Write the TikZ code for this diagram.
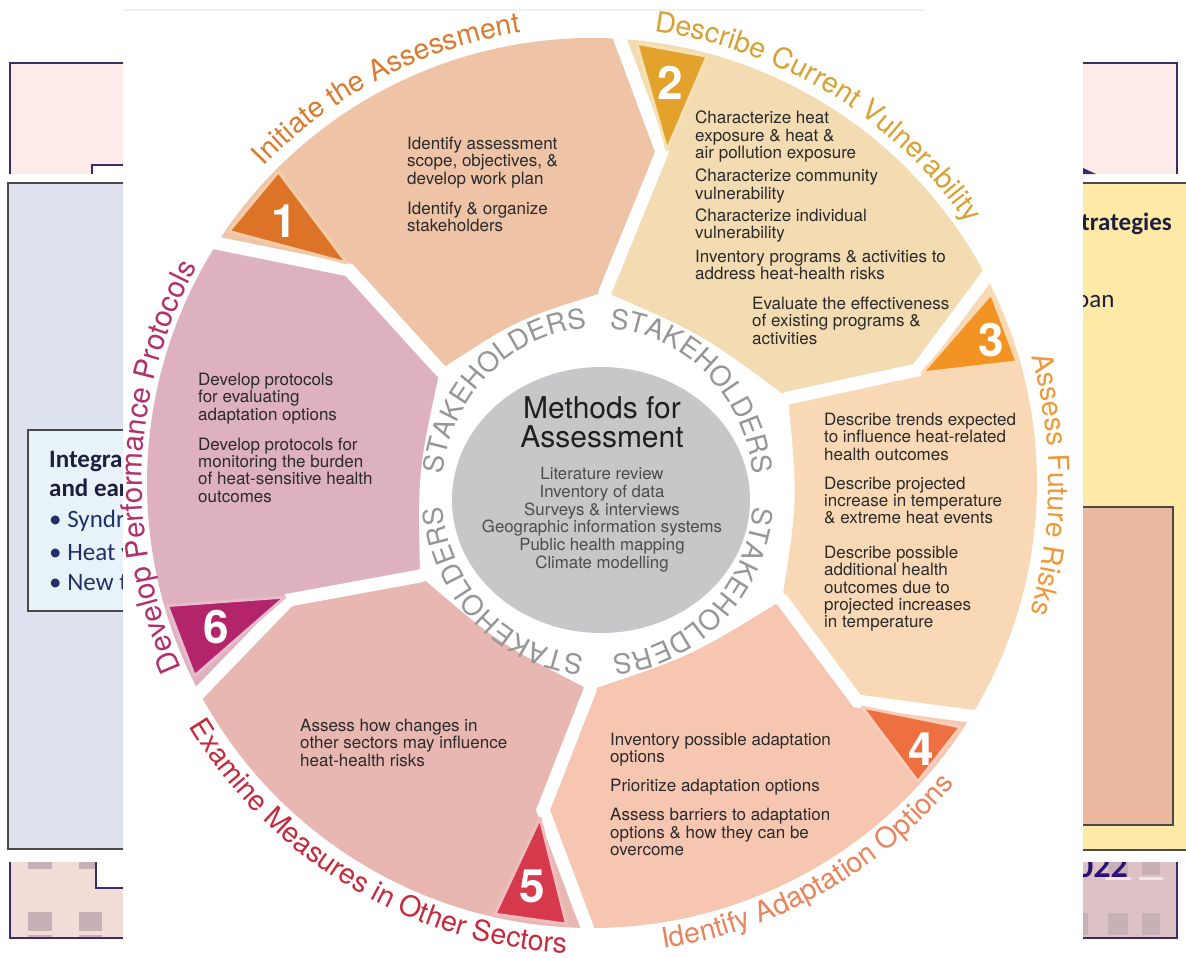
\documentclass[tikz,border=0pt]{standalone}
\usepackage{fontspec}
\setmainfont{TeX Gyre Heros}
\newfontfamily\panelfont{Carlito}
\usetikzlibrary{decorations.text,calc}

\definecolor{segA}{HTML}{EEC3A6}
\definecolor{segB}{HTML}{F3DBB2}
\definecolor{segC}{HTML}{F9D9B5}
\definecolor{segD}{HTML}{F6C6B1}
\definecolor{segE}{HTML}{E9B7B1}
\definecolor{segF}{HTML}{DDB1BF}
\definecolor{triA}{HTML}{DC7326}
\definecolor{triB}{HTML}{E3A22B}
\definecolor{triC}{HTML}{F39323}
\definecolor{triD}{HTML}{EE6F3F}
\definecolor{triE}{HTML}{D6394B}
\definecolor{triF}{HTML}{B3246A}
\definecolor{rimA}{HTML}{F4CDA8}
\definecolor{rimB}{HTML}{F6E0B4}
\definecolor{rimC}{HTML}{FBD9B0}
\definecolor{rimD}{HTML}{F9CDB8}
\definecolor{rimE}{HTML}{EFBDBB}
\definecolor{rimF}{HTML}{E6BCCB}
\definecolor{titA}{HTML}{D97C32}
\definecolor{titB}{HTML}{D8A232}
\definecolor{titC}{HTML}{EE9A3A}
\definecolor{titD}{HTML}{E8855C}
\definecolor{titE}{HTML}{C52A3D}
\definecolor{titF}{HTML}{B2306C}
\definecolor{ringgray}{HTML}{969696}
\definecolor{hubgray}{HTML}{C7C7C9}
\definecolor{bodytext}{HTML}{2A2A2A}
\definecolor{listtext}{HTML}{4C4C4C}
\definecolor{pinkpanel}{HTML}{FDEBEA}
\definecolor{purpleline}{HTML}{3B2C6E}
\definecolor{leftpanel}{HTML}{DEE2EF}
\definecolor{innerbox}{HTML}{E7F3F8}
\definecolor{panelborder}{HTML}{4A4A4A}
\definecolor{headnavy}{HTML}{1C1F3D}
\definecolor{bulletnavy}{HTML}{22306A}
\definecolor{yellowpanel}{HTML}{FEE9A6}
\definecolor{salmonbox}{HTML}{EDB8A0}
\definecolor{blpanel}{HTML}{F2DCD8}
\definecolor{brpanel}{HTML}{DCC2C5}
\definecolor{windowgray}{HTML}{C7B1B6}
\definecolor{sillwhite}{HTML}{F1E7E8}
\definecolor{purpletext}{HTML}{2B1178}
\definecolor{topline}{HTML}{F0F0F0}

\newcommand\ringfont{\color{ringgray}\fontsize{27.5}{27.5}\selectfont}
\newcommand\titfont{\fontsize{28.5}{28.5}\selectfont}
\newcommand\titbigfont{\fontsize{29.5}{29.5}\selectfont}

\begin{document}
\begin{tikzpicture}[x=1pt,y=-1pt,
  segtext/.style={anchor=north west, inner sep=0pt, align=left,
    font=\fontsize{17}{17.4}\selectfont, text=bodytext},
  numtext/.style={text=white, inner sep=0pt, font=\fontsize{46}{46}\selectfont\bfseries},
  gapline/.style={white, line width=13pt, line join=miter},
  headtext/.style={anchor=base west, inner sep=0pt, text=headnavy,
    font=\panelfont\bfseries\fontsize{25}{25}\selectfont},
  bullettext/.style={anchor=base west, inner sep=0pt, text=bulletnavy,
    font=\panelfont\fontsize{25}{25}\selectfont},
  tri/.style={line width=3pt, line join=round}
]
\useasboundingbox (0,0) rectangle (1186,958);

% ---------------- background collage ----------------
% top-left pink panel
\fill[pinkpanel] (10,63) rectangle (123,174);
\draw[purpleline, line width=2pt] (10,174) -- (10,63) -- (123,63);
\fill[white] (92,165) rectangle (123,174);
\draw[purpleline, line width=1.5pt] (92,174) -- (92,165) -- (123,165);
% top-right pink panel
\fill[pinkpanel] (1083,63) rectangle (1177,174);
\draw[purpleline, line width=2pt] (1083,63) -- (1177,63) -- (1177,174);
\fill[purpleline] (1083,168) -- (1096,174) -- (1083,174) -- cycle;
% left panel
\fill[leftpanel] (8,183) rectangle (123,849);
\draw[panelborder, line width=2pt] (123,183) -- (8,183) -- (8,849) -- (123,849);
\fill[innerbox] (28,430) rectangle (123,611);
\draw[panelborder, line width=1.5pt] (123,430) -- (28,430) -- (28,611) -- (123,611);
\begin{scope}
  \clip (28,430) rectangle (123,611);
  \node[headtext] (lh1) at (49,467) {Integra};
  \node[headtext] (lh2) at (49,496) {and ear};
  \node[bullettext] (lb1) at (49,527) {• Syndro};
  \node[bullettext] (lb2) at (49,560) {• Heat v};
  \node[bullettext] (lb3) at (49,590) {• New t};
\end{scope}
% bottom-left panel
\fill[blpanel] (10,862) rectangle (123,938);
\fill[windowgray] (28,862) rectangle (52,869);
\fill[windowgray] (79,862) rectangle (102,869);
\fill[windowgray] (28,912) rectangle (52,931);
\fill[windowgray] (79,912) rectangle (102,931);
\fill[windowgray] (28,935) rectangle (52,938);
\fill[windowgray] (79,935) rectangle (102,938);
\fill[white] (96,862) rectangle (123,888);
\draw[purpleline, line width=1.5pt] (96,862) -- (96,888) -- (123,888);
\draw[purpleline, line width=2pt] (10,862) -- (10,938) -- (123,938);
% right yellow panel
\fill[yellowpanel] (1083,183) rectangle (1186,850);
\draw[panelborder, line width=2pt] (1083,183) -- (1186,183);
\draw[panelborder, line width=2pt] (1083,850) -- (1186,850);
\fill[salmonbox] (1083,507) rectangle (1173,825);
\draw[panelborder, line width=1.5pt] (1083,507) -- (1173,507) -- (1173,825) -- (1083,825);
\begin{scope}
  \clip (1083,190) rectangle (1186,330);
  \node[headtext] (rh1) at (1081,230) {trategies};
  \node[bullettext, text=headnavy] (rh2) at (1076,307) {oan};
\end{scope}
% bottom-right panel
\begin{scope}
  \clip (1083,862) rectangle (1177,938);
  \fill[brpanel] (1083,862) rectangle (1177,938);
  \fill[windowgray] (1108,862) rectangle (1128,876);
  \fill[windowgray] (1142,862) rectangle (1160,875);
  \fill[sillwhite] (1105,877) rectangle (1131,880);
  \fill[sillwhite] (1139,877) rectangle (1163,880);
  \fill[windowgray] (1083,913) rectangle (1088,935);
  \fill[windowgray] (1108,913) rectangle (1128,935);
  \fill[windowgray] (1142,913) rectangle (1160,935);
  \node[anchor=base west, inner sep=0pt, text=purpletext,
    font=\panelfont\bfseries\fontsize{34}{34}\selectfont] (br022) at (1076,877) {022};
\end{scope}
\draw[purpleline, line width=2pt] (1177,862) -- (1177,938) -- (1083,938);

% ---------------- wheel picture area ----------------
\fill[white] (123,0) rectangle (1083,958);
\draw[topline, line width=2pt] (123,10) -- (925,10);

\coordinate (Co) at (592,483);
\coordinate (Cr) at (603,492);
\coordinate (Ct) at (598,492);
\coordinate (Cg) at (601,500);
\def\Ro{445}

\coordinate (O1) at ($(Co)+(-147.4:\Ro)$);
\coordinate (O2) at ($(Co)+(-86.4:\Ro)$);
\coordinate (O3) at ($(Co)+(-27.6:\Ro)$);
\coordinate (O4) at ($(Co)+(31.6:\Ro)$);
\coordinate (O5) at ($(Co)+(90.6:\Ro)$);
\coordinate (O6) at ($(Co)+(151.9:\Ro)$);
\coordinate (P1) at (349,270);
\coordinate (P2) at (662,152);
\coordinate (P3) at (917,370);
\coordinate (P4) at (857,701);
\coordinate (P5) at (543,810);
\coordinate (P6) at (289,600);
\coordinate (I1) at (440,370);
\coordinate (I2) at (605,292);
\coordinate (I3) at (788,398);
\coordinate (I4) at (782,600);
\coordinate (I5) at (590,690);
\coordinate (I6) at (420,576);

% segments
\fill[segA] (O1) arc[start angle=-147.4, end angle=-86.4, radius=\Ro] -- (P2) -- (I2) -- (Cr) -- (I1) -- (P1) -- cycle;
\fill[segB] (O2) arc[start angle=-86.4, end angle=-27.6, radius=\Ro] -- (P3) -- (I3) -- (Cr) -- (I2) -- (P2) -- cycle;
\fill[segC] (O3) arc[start angle=-27.6, end angle=31.6, radius=\Ro] -- (P4) -- (I4) -- (Cr) -- (I3) -- (P3) -- cycle;
\fill[segD] (O4) arc[start angle=31.6, end angle=90.6, radius=\Ro] -- (P5) -- (I5) -- (Cr) -- (I4) -- (P4) -- cycle;
\fill[segE] (O5) arc[start angle=90.6, end angle=151.9, radius=\Ro] -- (P6) -- (I6) -- (Cr) -- (I5) -- (P5) -- cycle;
\fill[segF] (O6) arc[start angle=151.9, end angle=212.6, radius=\Ro] -- (P1) -- (I1) -- (Cr) -- (I6) -- (P6) -- cycle;

% white gaps between segments
\foreach \k in {1,...,6}{
  \draw[gapline] ($(O\k)!-0.2!(P\k)$) -- (P\k) -- (I\k) -- ($(I\k)!0.25!(Cr)$);
}

% white inner region
\coordinate (M12) at ($(I1)!0.5!(I2)$); \coordinate (K12) at ($(Cr)!1.07!(M12)$);
\coordinate (M23) at ($(I2)!0.5!(I3)$); \coordinate (K23) at ($(Cr)!1.07!(M23)$);
\coordinate (M34) at ($(I3)!0.5!(I4)$); \coordinate (K34) at ($(Cr)!1.07!(M34)$);
\coordinate (M45) at ($(I4)!0.5!(I5)$); \coordinate (K45) at ($(Cr)!1.07!(M45)$);
\coordinate (M56) at ($(I5)!0.5!(I6)$); \coordinate (K56) at ($(Cr)!1.07!(M56)$);
\coordinate (M61) at ($(I6)!0.5!(I1)$); \coordinate (K61) at ($(Cr)!1.07!(M61)$);
\fill[white] (I1) .. controls (K12) .. (I2) .. controls (K23) .. (I3) .. controls (K34) .. (I4)
  .. controls (K45) .. (I5) .. controls (K56) .. (I6) .. controls (K61) .. (I1) -- cycle;

% stakeholders ring
\foreach \c in {-134,-46,45,135}{
  \path[decorate, decoration={text along path, text align=center,
      text={|\ringfont|STAKEHOLDERS}}]
    ($(Ct)+(\c-44:156 and 164)$) arc[start angle=\c-44, end angle=\c+44, x radius=156, y radius=164];
}

% hub
\fill[hubgray] (Cg) ellipse[x radius=149, y radius=133];
\node[anchor=north, inner sep=0pt, align=center, font=\fontsize{30}{29}\selectfont, text=black!88] (hubtitle) at (602,396) {Methods for\\Assessment};
\node[anchor=north, inner sep=0pt, align=center, font=\fontsize{16.8}{17.8}\selectfont, text=listtext] (hublist) at (602,467)
  {Literature review\\Inventory of data\\Surveys \& interviews\\Geographic information systems\\Public health mapping\\Climate modelling};

% triangles
\filldraw[tri, fill=triA, draw=rimA] ($(Co)+(-145.3:442)$) -- ($(Co)+(-135.2:442)$) -- (347,263) -- cycle;
\filldraw[tri, fill=triB, draw=rimB] ($(Co)+(-84.2:442)$) -- ($(Co)+(-74.9:442)$) -- (667,150) -- cycle;
\filldraw[tri, fill=triC, draw=rimC] ($(Co)+(-25.4:442)$) -- ($(Co)+(-15.9:442)$) -- (922,373) -- cycle;
\filldraw[tri, fill=triD, draw=rimD] ($(Co)+(33.5:442)$) -- ($(Co)+(42.5:442)$) -- (862,707) -- cycle;
\filldraw[tri, fill=triE, draw=rimE] ($(Co)+(93.3:442)$) -- ($(Co)+(102.7:442)$) -- (540,818) -- cycle;
\filldraw[tri, fill=triF, draw=rimF] ($(Co)+(154.1:442)$) -- ($(Co)+(163.9:442)$) -- (285,597) -- cycle;
\node[numtext] (n1) at (284,221) {1};
\node[numtext] (n2) at (670,83) {2};
\node[numtext] (n3) at (991,340) {3};
\node[numtext] (n4) at (921,749) {4};
\node[numtext] (n5) at (532,886) {5};
\node[numtext] (n6) at (216,627) {6};

% segment texts
\node[segtext] (s1) at (407,136.7) {Identify assessment\\scope, objectives, \&\\develop work plan\\[13pt]Identify \& organize\\stakeholders};
\node[segtext] (s2) at (695,110.7) {Characterize heat\\exposure \& heat \&\\air pollution exposure\\[6pt]Characterize community\\vulnerability\\[4.6pt]Characterize individual\\vulnerability\\[6pt]Inventory programs \& activities to\\address heat-health risks};
\node[segtext] (s2b) at (752,296.7) {Evaluate the effectiveness\\of existing programs \&\\activities};
\node[segtext] (s3) at (824,412.7) {Describe trends expected\\to influence heat-related\\health outcomes\\[11.6pt]Describe projected\\increase in temperature\\\& extreme heat events\\[17pt]Describe possible\\additional health\\outcomes due to\\projected increases\\in temperature};
\node[segtext] (s4) at (610,732.7) {Inventory possible adaptation\\options\\[11.6pt]Prioritize adaptation options\\[11.6pt]Assess barriers to adaptation\\options \& how they can be\\overcome};
\node[segtext] (s5) at (300,718.7) {Assess how changes in\\other sectors may influence\\heat-health risks};
\node[segtext] (s6) at (198,372.7) {Develop protocols\\for evaluating\\adaptation options\\[12.6pt]Develop protocols for\\monitoring the burden\\of heat-sensitive health\\outcomes};

% curved titles
\path[decorate, decoration={text along path, text align=center, text={|\titfont\color{titA}|Initiate the Assessment}}]
  ($(Co)+(-147.5:456)$) arc[start angle=-147.5, end angle=-87.5, radius=456];
\path[decorate, decoration={text along path, text align=center, text={|\titfont\color{titB}|Describe Current Vulnerability}}]
  ($(Co)+(-88.4:456)$) arc[start angle=-88.4, end angle=-28.4, radius=456];
\path[decorate, decoration={text along path, text align=center, text={|\titfont\color{titC}|Assess Future Risks}}]
  ($(Co)+(-29.8:457)$) arc[start angle=-29.8, end angle=30.2, radius=457];
\path[decorate, decoration={text along path, text align=center, text={|\titfont\color{titD}|Identify Adaptation Options}}]
  ($(Co)+(90.5:471)$) arc[start angle=90.5, end angle=30.5, radius=471];
\path[decorate, decoration={text along path, text align=center, text={|\titfont\color{titE}|Examine Measures in Other Sectors}}]
  ($(Co)+(151:471)$) arc[start angle=151, end angle=91, radius=471];
\path[decorate, decoration={text along path, text align=center, text={|\titbigfont\color{titF}|Develop Performance Protocols}}]
  ($(Co)+(152.2:450)$) arc[start angle=152.2, end angle=212.2, radius=450];
\end{tikzpicture}
\end{document}
